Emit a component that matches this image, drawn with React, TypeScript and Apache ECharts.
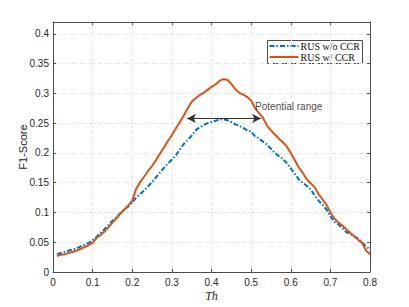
import React, { useEffect, useRef } from "react";
import * as echarts from "echarts";

const thValues = [
  0.01, 0.02, 0.03, 0.04, 0.05, 0.06, 0.07, 0.08, 0.09, 0.1,
  0.11, 0.12, 0.13, 0.14, 0.15, 0.16, 0.17, 0.18, 0.19, 0.2,
  0.21, 0.22, 0.23, 0.24, 0.25, 0.26, 0.27, 0.28, 0.29, 0.3,
  0.31, 0.32, 0.33, 0.34, 0.35, 0.36, 0.37, 0.38, 0.39, 0.4,
  0.41, 0.42, 0.43, 0.44, 0.45, 0.46, 0.47, 0.48, 0.49, 0.5,
  0.51, 0.52, 0.53, 0.54, 0.55, 0.56, 0.57, 0.58, 0.59, 0.6,
  0.61, 0.62, 0.63, 0.64, 0.65, 0.66, 0.67, 0.68, 0.69, 0.7,
  0.71, 0.72, 0.73, 0.74, 0.75, 0.76, 0.77, 0.78, 0.79, 0.8,
];

const rusWithoutCCR = [
  0.030, 0.032, 0.034, 0.036, 0.038, 0.040, 0.043, 0.046, 0.049, 0.053,
  0.059, 0.066, 0.072, 0.079, 0.086, 0.092, 0.099, 0.105, 0.110, 0.117,
  0.125, 0.131, 0.137, 0.144, 0.151, 0.159, 0.167, 0.175, 0.182, 0.189,
  0.196, 0.206, 0.215, 0.222, 0.229, 0.238, 0.243, 0.247, 0.250, 0.252,
  0.254, 0.256, 0.257, 0.255, 0.252, 0.248, 0.246, 0.242, 0.238, 0.236,
  0.228, 0.224, 0.219, 0.214, 0.207, 0.200, 0.195, 0.190, 0.183, 0.174,
  0.165, 0.156, 0.150, 0.145, 0.139, 0.129, 0.120, 0.113, 0.105, 0.094,
  0.084, 0.080, 0.074, 0.067, 0.064, 0.060, 0.056, 0.050, 0.043, 0.038,
];

const rusWithCCR = [
  0.027, 0.029, 0.030, 0.032, 0.034, 0.036, 0.039, 0.042, 0.045, 0.049,
  0.057, 0.062, 0.068, 0.075, 0.083, 0.090, 0.098, 0.105, 0.112, 0.120,
  0.140, 0.151, 0.160, 0.170, 0.178, 0.188, 0.199, 0.209, 0.220, 0.230,
  0.241, 0.252, 0.263, 0.275, 0.286, 0.292, 0.297, 0.301, 0.306, 0.311,
  0.315, 0.321, 0.324, 0.323, 0.316, 0.307, 0.301, 0.298, 0.294, 0.288,
  0.275, 0.267, 0.259, 0.246, 0.238, 0.231, 0.224, 0.218, 0.211, 0.200,
  0.188, 0.176, 0.167, 0.156, 0.149, 0.143, 0.131, 0.122, 0.113, 0.100,
  0.090, 0.083, 0.078, 0.072, 0.066, 0.060, 0.054, 0.049, 0.036, 0.030,
];

const seriesNames = ["RUS w/o CCR", "RUS w/ CCR"];
const arrowStart = [0.338, 0.258];
const arrowEnd = [0.525, 0.258];
const annotationText = "Potential range";
const annotationPos = [0.51, 0.278];

const BLUE = "#0072BD";
const RED = "#D95319";
const AXIS = "#4d4d4d";
const TEXT = "#262626";

export default function App() {
  const ref = useRef<HTMLDivElement>(null);
  useEffect(() => {
    if (!ref.current) return;
    const chart = echarts.init(ref.current, null, { renderer: "svg" });
    const gridDash = [4, 2, 1, 2];
    const fmt = (v: number) => {
      const r = Math.round(v * 100) / 100;
      if (Math.abs(r * 20 - Math.round(r * 20)) > 1e-6) return "";
      return String(r);
    };
    chart.setOption({
      animation: false,
      grid: { left: 53, top: 22, width: 317, height: 251, containLabel: false },
      xAxis: [
        {
          type: "value",
          min: 0,
          max: 0.8,
          interval: 0.1,
          name: "Th",
          nameLocation: "middle",
          nameGap: 18,
          nameMoveOverlap: false,
          nameTextStyle: { fontFamily: "Liberation Serif", fontStyle: "italic", fontSize: 12, color: TEXT },
          axisLine: { show: true, onZero: false, lineStyle: { color: AXIS, width: 1 } },
          axisTick: { show: true, inside: true, length: 3, lineStyle: { color: AXIS } },
          axisLabel: { color: TEXT, fontFamily: "Liberation Sans", fontSize: 10, margin: 5 },
          splitLine: { show: true, lineStyle: { color: "#e3e3e3", type: gridDash, width: 1 } },
        },
        {
          type: "value",
          position: "top",
          min: 0,
          max: 0.8,
          interval: 0.1,
          axisLine: { show: true, onZero: false, lineStyle: { color: AXIS, width: 1 } },
          axisTick: { show: true, inside: true, length: 3, lineStyle: { color: AXIS } },
          axisLabel: { show: false },
          splitLine: { show: false },
        },
      ],
      yAxis: [
        {
          type: "value",
          min: 0,
          max: 0.42,
          interval: 0.05,
          name: "F1-Score",
          nameLocation: "middle",
          nameGap: 25,
          nameMoveOverlap: false,
          nameTextStyle: { fontFamily: "Liberation Sans", fontSize: 11, color: TEXT },
          axisLine: { show: true, onZero: false, lineStyle: { color: AXIS, width: 1 } },
          axisTick: { show: true, inside: true, length: 3, lineStyle: { color: AXIS } },
          axisLabel: { color: TEXT, fontFamily: "Liberation Sans", fontSize: 10, margin: 4, formatter: fmt },
          splitLine: { show: true, lineStyle: { color: "#e3e3e3", type: gridDash, width: 1 } },
        },
        {
          type: "value",
          position: "right",
          min: 0,
          max: 0.42,
          interval: 0.05,
          axisLine: { show: true, onZero: false, lineStyle: { color: AXIS, width: 1 } },
          axisTick: { show: true, inside: true, length: 3, lineStyle: { color: AXIS } },
          axisLabel: { show: false },
          splitLine: { show: false },
        },
      ],
      series: [
        {
          name: seriesNames[0],
          type: "line",
          data: thValues.map((t, i) => [t, rusWithoutCCR[i]]),
          showSymbol: false,
          symbol: "none",
          lineStyle: { color: BLUE, width: 2, type: [5, 2, 1.5, 2] },
          z: 3,
        },
        {
          name: seriesNames[1],
          type: "line",
          data: thValues.map((t, i) => [t, rusWithCCR[i]]),
          showSymbol: false,
          symbol: "none",
          lineStyle: { color: RED, width: 2 },
          z: 4,
          markLine: {
            silent: true,
            symbol: ["arrow", "arrow"],
            symbolSize: [7, 9],
            label: { show: false },
            lineStyle: { color: "#333", width: 1, type: "solid" },
            data: [[{ coord: arrowStart }, { coord: arrowEnd }]],
          },
        },
        {
          type: "scatter",
          data: [annotationPos],
          symbolSize: 0,
          silent: true,
          z: 6,
          label: {
            show: true,
            position: "right",
            distance: 0,
            formatter: annotationText,
            fontFamily: "Liberation Sans",
            fontSize: 10,
            color: "#111",
          },
        },
      ],
      graphic: [
        {
          type: "group",
          left: 267,
          top: 40,
          z: 100,
          children: [
            { type: "rect", shape: { x: 0, y: 0, width: 95, height: 23 }, style: { fill: "#fff", stroke: AXIS, lineWidth: 1 } },
            { type: "line", shape: { x1: 2, y1: 5.5, x2: 31, y2: 5.5 }, style: { stroke: BLUE, lineWidth: 2, lineDash: [5, 2, 1.5, 2] } },
            { type: "line", shape: { x1: 2, y1: 16.5, x2: 31, y2: 16.5 }, style: { stroke: RED, lineWidth: 2 } },
            { type: "text", x: 33, y: 5.5, style: { text: seriesNames[0], fontFamily: "Liberation Serif", fontSize: 10, fill: "#111", verticalAlign: "middle" } },
            { type: "text", x: 33, y: 16.5, style: { text: seriesNames[1], fontFamily: "Liberation Serif", fontSize: 10, fill: "#111", verticalAlign: "middle" } },
          ],
        },
      ],
    });
    return () => chart.dispose();
  }, []);
  return <div ref={ref} style={{ position: "absolute", left: 0, top: 0, width: 409, height: 307 }} />;
}
